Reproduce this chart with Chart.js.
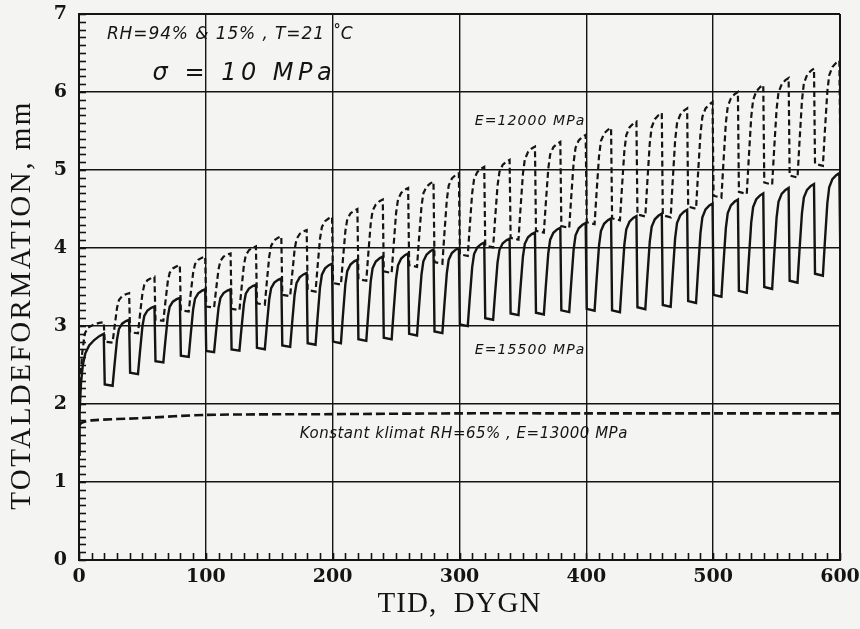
<!DOCTYPE html>
<html>
<head>
<meta charset="utf-8">
<script src="https://cdn.jsdelivr.net/npm/chart.js@4.4.1/dist/chart.umd.min.js"></script>
<style>
html,body{margin:0;padding:0;background:#f4f4f2;}
#wrap{width:860px;height:629px;}
</style>
</head>
<body>
<div id="wrap"><canvas id="c" width="860" height="629"></canvas></div>
<script>
// ---- data ----
const xTicks = [0, 100, 200, 300, 400, 500, 600];
const yTicks = [0, 1, 2, 3, 4, 5, 6, 7];

// days at which the humidity switches (each cycle ends with a sharp drop)
const dropDays = [20,40,60,80,100,120,140,160,180,200,220,240,260,280,300,
                  320,340,360,380,400,420,440,460,480,500,520,540,560,580,600];

// E=15500 MPa (solid): value just before each drop, and value just after it
const solidPeaks   = [2.9,3.08,3.25,3.36,3.47,3.47,3.53,3.61,3.68,3.8,3.85,3.89,3.93,3.98,4.0,
                      4.07,4.12,4.2,4.26,4.32,4.38,4.41,4.44,4.49,4.57,4.62,4.7,4.77,4.82,4.96];
const solidTroughs = [2.25,2.4,2.55,2.62,2.68,2.7,2.72,2.75,2.78,2.8,2.83,2.85,2.9,2.93,3.02,
                      3.1,3.16,3.17,3.2,3.22,3.2,3.24,3.27,3.32,3.4,3.45,3.5,3.58,3.67,3.85];
const solidStart   = [[0,1.35],[0.5,1.9],[1.5,2.25],[3,2.5],[5,2.65],[8,2.75],[12,2.82],[16,2.87]];

// E=12000 MPa (dashed)
const dashedPeaks   = [3.05,3.42,3.63,3.78,3.89,3.93,4.02,4.15,4.23,4.4,4.5,4.62,4.77,4.85,4.96,
                       5.04,5.13,5.3,5.36,5.45,5.54,5.62,5.73,5.79,5.87,6.0,6.09,6.18,6.3,6.4];
const dashedTroughs = [2.8,2.92,3.08,3.2,3.25,3.22,3.29,3.4,3.46,3.55,3.6,3.7,3.78,3.82,3.92,
                       4.03,4.13,4.22,4.28,4.33,4.38,4.43,4.42,4.53,4.67,4.72,4.84,4.93,5.08,5.2];
const dashedStart   = [[0,1.9],[1,2.3],[2.5,2.65],[4.5,2.9],[7,2.98],[12,3.02],[16,3.04]];

// shape of one cycle: [days after drop, share of the rise to the next peak]
const cycleShape = [[6.5,-0.02],[8,0.3],[10,0.7],[11.5,0.86],[14,0.94],[17,0.98]];

// constant climate RH=65%, E=13000 MPa
const constDays   = [0, 2, 10, 50, 100, 200, 300, 400, 500, 600];
const constValues = [1.72, 1.76, 1.79, 1.82, 1.86, 1.87, 1.88, 1.88, 1.88, 1.88];

const labels = {
  yTitle: 'TOTALDEFORMATION, mm',
  xTitle: 'TID,  DYGN',
  cond: 'RH=94% & 15% , T=21 \u02DAC',
  sigma: '\u03C3 = 10 MPa',
  e12: 'E=12000 MPa',
  e15: 'E=15500 MPa',
  konst: 'Konstant klimat RH=65% , E=13000 MPa'
};

function buildSeries(start, peaks, troughs) {
  const pts = start.map(p => ({x: p[0], y: p[1]}));
  for (let i = 0; i < dropDays.length; i++) {
    const D = dropDays[i];
    pts.push({x: D - 0.5, y: peaks[i]});
    pts.push({x: D + 0.3, y: troughs[i]});
    if (i < dropDays.length - 1) {
      const T = troughs[i], Pn = peaks[i + 1];
      cycleShape.forEach(s => pts.push({x: D + s[0], y: T + s[1] * (Pn - T)}));
    }
  }
  return pts;
}

const solidData  = buildSeries(solidStart, solidPeaks, solidTroughs);
const dashedData = buildSeries(dashedStart, dashedPeaks, dashedTroughs);
const constData  = constDays.map((d, i) => ({x: d, y: constValues[i]}));

const INK = '#141414';

const bgPlugin = {
  id: 'bg',
  beforeDraw(chart) {
    const ctx = chart.ctx;
    ctx.save();
    ctx.fillStyle = '#f4f4f2';
    ctx.fillRect(0, 0, chart.width, chart.height);
    ctx.restore();
  }
};

const decorations = {
  id: 'decorations',
  afterDraw(chart) {
    const ctx = chart.ctx, xs = chart.scales.x, ys = chart.scales.y;
    const a = chart.chartArea;
    ctx.save();
    ctx.setLineDash([]);
    ctx.strokeStyle = INK;
    ctx.lineWidth = 1.6;
    for (let i = 0; i <= 70; i++) {
      const py = Math.round(ys.getPixelForValue(i / 10)) + 0.5;
      ctx.beginPath();
      ctx.moveTo(a.left, py); ctx.lineTo(a.left + 7, py);
      ctx.stroke();
    }
    for (let d = 0; d <= 600; d += 10) {
      const px = Math.round(xs.getPixelForValue(d)) + 0.5;
      ctx.beginPath();
      ctx.moveTo(px, a.bottom); ctx.lineTo(px, a.bottom - 7);
      ctx.stroke();
    }

    // annotations
    ctx.fillStyle = INK;
    ctx.textBaseline = 'middle';
    ctx.textAlign = 'left';
    const put = (txt, d, v, font, sp) => {
      ctx.font = font;
      ctx.letterSpacing = sp || '0px';
      ctx.fillText(txt, xs.getPixelForValue(d), ys.getPixelForValue(v));
    };
    put(labels.cond, 22, 6.73, 'italic 17px "DejaVu Sans"', '0.9px');
    put(labels.sigma, 58, 6.24, 'italic 24px "DejaVu Sans"', '4.5px');
    put(labels.e12, 312, 5.62, 'italic 14px "DejaVu Sans"', '1.1px');
    put(labels.e15, 312, 2.69, 'italic 14px "DejaVu Sans"', '1.1px');
    put(labels.konst, 174, 1.62, 'italic 15px "DejaVu Sans"', '0.5px');

    // axis titles
    ctx.textAlign = 'center';
    ctx.font = '29px "Liberation Serif"';
    ctx.letterSpacing = '1px';
    ctx.fillText(labels.xTitle, (a.left + a.right) / 2, 604);
    ctx.save();
    ctx.translate(22, 305);
    ctx.rotate(-Math.PI / 2);
    ctx.letterSpacing = '2.5px';
    ctx.fillText(labels.yTitle, 0, 0);
    ctx.restore();
    ctx.letterSpacing = '0px';
    ctx.restore();
  }
};

new Chart(document.getElementById('c'), {
  type: 'scatter',
  data: {
    datasets: [
      {label: 'E=15500 MPa', data: solidData, showLine: true, borderColor: INK,
       borderWidth: 2.4, pointRadius: 0, tension: 0},
      {label: 'E=12000 MPa', data: dashedData, showLine: true, borderColor: INK,
       borderWidth: 2.2, borderDash: [6, 3.5], pointRadius: 0, tension: 0},
      {label: 'Konstant klimat', data: constData, showLine: true, borderColor: INK,
       borderWidth: 2.6, borderDash: [9, 4], pointRadius: 0, tension: 0.3}
    ]
  },
  options: {
    responsive: false,
    animation: false,
    devicePixelRatio: 1,
    layout: {padding: {top: 14, right: 20, left: 0, bottom: 0}},
    plugins: {legend: {display: false}, tooltip: {enabled: false}},
    scales: {
      x: {
        type: 'linear', min: 0, max: 600,
        afterBuildTicks: s => { s.ticks = xTicks.map(v => ({value: v})); },
        afterFit: s => { s.height = 69; s.paddingLeft = 0; s.paddingRight = 0; },
        ticks: {color: INK, padding: 6, font: {family: '"DejaVu Serif"', weight: 'bold', size: 19}},
        grid: {color: INK, lineWidth: c => (c.index === 0 || c.index === xTicks.length - 1) ? 2 : 1.4, tickLength: 0},
        border: {display: true, color: INK, width: 2},
        title: {display: false}
      },
      y: {
        min: 0, max: 7,
        afterBuildTicks: s => { s.ticks = yTicks.map(v => ({value: v})); },
        afterFit: s => { s.width = 79; s.paddingTop = 0; s.paddingBottom = 0; },
        ticks: {color: INK, padding: 12, font: {family: '"DejaVu Serif"', weight: 'bold', size: 19}},
        grid: {color: INK, lineWidth: c => (c.index === 0 || c.index === yTicks.length - 1) ? 2 : 1.4, tickLength: 0},
        border: {display: true, color: INK, width: 2},
        title: {display: false}
      }
    }
  },
  plugins: [bgPlugin, decorations]
});
</script>
</body>
</html>
